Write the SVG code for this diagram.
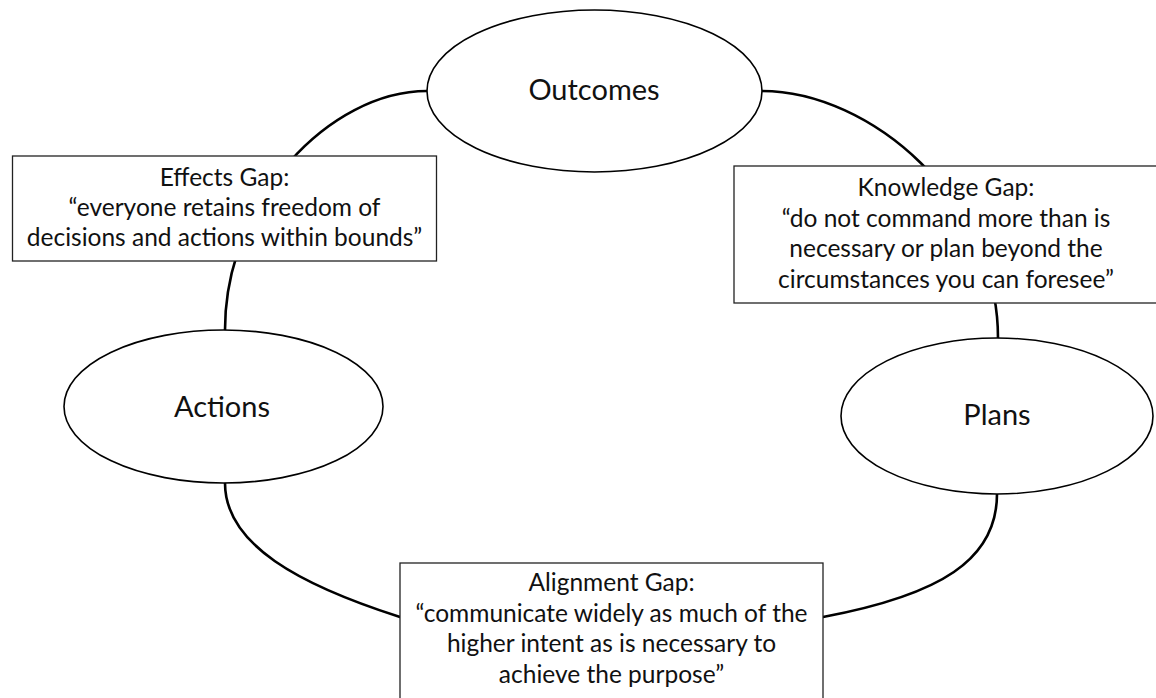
<svg xmlns="http://www.w3.org/2000/svg" width="1156" height="698" viewBox="0 0 1156 698">
  <style>
    .link { fill: none; stroke: #000; stroke-width: 2.6; stroke-linecap: round; }
    .oval { fill: #fff; stroke: #000; stroke-width: 1.6; }
    .gap { fill: #fff; stroke: #222; stroke-width: 1.3; }
    .label { font-family: Lato, "Liberation Sans", Arial, sans-serif; font-size: 29px; fill: #111; text-anchor: middle; }
    .note { font-family: Lato, "Liberation Sans", Arial, sans-serif; font-size: 24.5px; fill: #111; text-anchor: middle; }
  </style>
  <rect width="1156" height="698" fill="#fff"/>

  <!-- cycle links running behind the nodes -->
  <g id="connectors">
    <path class="link" d="M 427,91 C 330,91 225,200 225,330"/>
    <path class="link" d="M 762,91 C 870,91 998,200 998,338"/>
    <path class="link" d="M 225,483 C 225,545 300,585 400,617"/>
    <path class="link" d="M 997,494 C 997,560 940,595 823,617"/>
  </g>

  <g id="outcomes">
    <ellipse class="oval" cx="594.5" cy="91" rx="167.5" ry="81"/>
    <text class="label" x="594" y="100">Outcomes</text>
  </g>

  <g id="actions">
    <ellipse class="oval" cx="223.5" cy="406.5" rx="159.5" ry="76.5"/>
    <text class="label" x="222" y="417">Actions</text>
  </g>

  <g id="plans">
    <ellipse class="oval" cx="997" cy="416" rx="156" ry="78"/>
    <text class="label" x="997" y="425">Plans</text>
  </g>

  <g id="effects-gap">
    <rect class="gap" x="12.5" y="156" width="424" height="105"/>
    <text class="note" x="224.5" y="186">Effects Gap:</text>
    <text class="note" x="224.5" y="216">“everyone retains freedom of</text>
    <text class="note" x="224.5" y="246">decisions and actions within bounds”</text>
  </g>

  <g id="knowledge-gap">
    <rect class="gap" x="734" y="166" width="425" height="137"/>
    <text class="note" x="946" y="196">Knowledge Gap:</text>
    <text class="note" x="946" y="226.5">“do not command more than is</text>
    <text class="note" x="946" y="257">necessary or plan beyond the</text>
    <text class="note" x="946" y="287.5">circumstances you can foresee”</text>
  </g>

  <g id="alignment-gap">
    <rect class="gap" x="400" y="563" width="423" height="145"/>
    <text class="note" x="611.5" y="591">Alignment Gap:</text>
    <text class="note" x="611.5" y="621.5">“communicate widely as much of the</text>
    <text class="note" x="611.5" y="652">higher intent as is necessary to</text>
    <text class="note" x="611.5" y="682.5">achieve the purpose”</text>
  </g>
</svg>
